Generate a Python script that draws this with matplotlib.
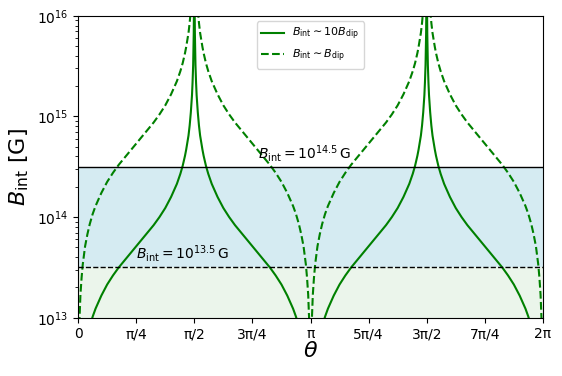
import numpy as np
import matplotlib
matplotlib.use('Agg')
import matplotlib.pyplot as plt

#
# values (theta in units of pi, field as log10 B [G])
# one list per branch between the zeros and the poles
#
theta_1 = [0.005, 0.01, 0.015, 0.02, 0.03, 0.04, 0.05, 0.0625, 0.075, 0.1, 0.125, 0.15,
           0.175, 0.2, 0.225, 0.25, 0.275, 0.3, 0.325, 0.35, 0.375, 0.4, 0.425, 0.44,
           0.45, 0.46, 0.465, 0.47, 0.475, 0.48, 0.485, 0.49, 0.4925, 0.495, 0.4975, 0.499]
theta_2 = [0.501, 0.5025, 0.505, 0.5075, 0.51, 0.515, 0.52, 0.525, 0.53, 0.535, 0.54, 0.55,
           0.56, 0.575, 0.6, 0.625, 0.65, 0.675, 0.7, 0.725, 0.75, 0.775, 0.8, 0.825,
           0.85, 0.875, 0.9, 0.925, 0.9375, 0.95, 0.96, 0.97, 0.98, 0.985, 0.99, 0.995]
theta_3 = [1.005, 1.01, 1.015, 1.02, 1.03, 1.04, 1.05, 1.0625, 1.075, 1.1, 1.125, 1.15,
           1.175, 1.2, 1.225, 1.25, 1.275, 1.3, 1.325, 1.35, 1.375, 1.4, 1.425, 1.44,
           1.45, 1.46, 1.465, 1.47, 1.475, 1.48, 1.485, 1.49, 1.4925, 1.495, 1.4975, 1.499]
theta_4 = [1.501, 1.5025, 1.505, 1.5075, 1.51, 1.515, 1.52, 1.525, 1.53, 1.535, 1.54, 1.55,
           1.56, 1.575, 1.6, 1.625, 1.65, 1.675, 1.7, 1.725, 1.75, 1.775, 1.8, 1.825,
           1.85, 1.875, 1.9, 1.925, 1.9375, 1.95, 1.96, 1.97, 1.98, 1.985, 1.99, 1.995]

# B_int ~ B_dip (dashed)
dip_1 = [12.93, 13.23, 13.40, 13.53, 13.71, 13.83, 13.93, 14.03, 14.11, 14.24, 14.35, 14.44,
         14.52, 14.59, 14.66, 14.73, 14.80, 14.87, 14.94, 15.02, 15.11, 15.22, 15.35, 15.45,
         15.53, 15.63, 15.69, 15.76, 15.83, 15.93, 16.06, 16.23, 16.36, 16.53, 16.84, 17.23]
dip_2 = [17.23, 16.84, 16.53, 16.36, 16.23, 16.06, 15.93, 15.83, 15.76, 15.69, 15.63, 15.53,
         15.45, 15.35, 15.22, 15.11, 15.02, 14.94, 14.87, 14.80, 14.73, 14.66, 14.59, 14.52,
         14.44, 14.35, 14.24, 14.11, 14.03, 13.93, 13.83, 13.71, 13.53, 13.40, 13.23, 12.93]
dip_3 = [12.93, 13.23, 13.40, 13.53, 13.71, 13.83, 13.93, 14.03, 14.11, 14.24, 14.35, 14.44,
         14.52, 14.59, 14.66, 14.73, 14.80, 14.87, 14.94, 15.02, 15.11, 15.22, 15.35, 15.45,
         15.53, 15.63, 15.69, 15.76, 15.83, 15.93, 16.06, 16.23, 16.36, 16.53, 16.84, 17.23]
dip_4 = [17.23, 16.84, 16.53, 16.36, 16.23, 16.06, 15.93, 15.83, 15.76, 15.69, 15.63, 15.53,
         15.45, 15.35, 15.22, 15.11, 15.02, 14.94, 14.87, 14.80, 14.73, 14.66, 14.59, 14.52,
         14.44, 14.35, 14.24, 14.11, 14.03, 13.93, 13.83, 13.71, 13.53, 13.40, 13.23, 12.93]

# B_int ~ 10 B_dip (solid)
dip10_1 = [11.91, 12.21, 12.38, 12.51, 12.69, 12.81, 12.91, 13.01, 13.09, 13.22, 13.33, 13.42,
           13.50, 13.57, 13.64, 13.71, 13.78, 13.85, 13.92, 14.00, 14.09, 14.20, 14.33, 14.43,
           14.51, 14.61, 14.67, 14.74, 14.81, 14.91, 15.04, 15.21, 15.34, 15.51, 15.82, 16.21]
dip10_2 = [16.21, 15.82, 15.51, 15.34, 15.21, 15.04, 14.91, 14.81, 14.74, 14.67, 14.61, 14.51,
           14.43, 14.33, 14.20, 14.09, 14.00, 13.92, 13.85, 13.78, 13.71, 13.64, 13.57, 13.50,
           13.42, 13.33, 13.22, 13.09, 13.01, 12.91, 12.81, 12.69, 12.51, 12.38, 12.21, 11.91]
dip10_3 = [11.91, 12.21, 12.38, 12.51, 12.69, 12.81, 12.91, 13.01, 13.09, 13.22, 13.33, 13.42,
           13.50, 13.57, 13.64, 13.71, 13.78, 13.85, 13.92, 14.00, 14.09, 14.20, 14.33, 14.43,
           14.51, 14.61, 14.67, 14.74, 14.81, 14.91, 15.04, 15.21, 15.34, 15.51, 15.82, 16.21]
dip10_4 = [16.21, 15.82, 15.51, 15.34, 15.21, 15.04, 14.91, 14.81, 14.74, 14.67, 14.61, 14.51,
           14.43, 14.33, 14.20, 14.09, 14.00, 13.92, 13.85, 13.78, 13.71, 13.64, 13.57, 13.50,
           13.42, 13.33, 13.22, 13.09, 13.01, 12.91, 12.81, 12.69, 12.51, 12.38, 12.21, 11.91]

log_upper = 14.5
log_lower = 13.5
xtick_labels = ['0', 'π/4', 'π/2', '3π/4', 'π', '5π/4', '3π/2', '7π/4', '2π']

theta = np.array(theta_1 + theta_2 + theta_3 + theta_4) * np.pi
B_dip = 10 ** np.array(dip_1 + dip_2 + dip_3 + dip_4)
B_10dip = 10 ** np.array(dip10_1 + dip10_2 + dip10_3 + dip10_4)

fig = plt.figure(figsize=(5.62, 3.76), dpi=100)
ax = fig.add_axes([0.139, 0.155, 0.827, 0.803])

# shaded bands
ax.fill_between([0, 2 * np.pi], 10 ** log_lower, 10 ** log_upper,
                color='lightblue', alpha=0.5, lw=0)
ax.fill_between([0, 2 * np.pi], 1e13, 10 ** log_lower,
                color='green', alpha=0.08, lw=0)

ax.plot(theta, B_10dip, color='green', lw=1.5,
        label=r'$B_{\rm int}\sim 10B_{\rm dip}$')
ax.plot(theta, B_dip, color='green', lw=1.5, ls='--',
        label=r'$B_{\rm int}\sim B_{\rm dip}$')

ax.axhline(10 ** log_upper, color='k', lw=1)
ax.axhline(10 ** log_lower, color='k', lw=1, ls='--')

ax.text(0.774 * np.pi, 10 ** (log_upper + 0.03), r'$B_{\rm int}=10^{14.5}\,$G',
        fontsize=10, va='bottom')
ax.text(0.25 * np.pi, 10 ** (log_lower + 0.03), r'$B_{\rm int}=10^{13.5}\,$G',
        fontsize=10, va='bottom')

ax.set_yscale('log')
ax.set_xlim(0, 2 * np.pi)
ax.set_ylim(1e13, 1e16)
ax.set_xticks(np.arange(9) * np.pi / 4)
ax.set_xticklabels(xtick_labels)
ax.tick_params(labelsize=10)
ax.set_xlabel(r'$\theta$', fontsize=16, labelpad=0)
ax.set_ylabel(r'$B_{\rm int}$ [G]', fontsize=16)
ax.legend(loc='upper center', fontsize=8)

fig.savefig('out.png', dpi=100)
